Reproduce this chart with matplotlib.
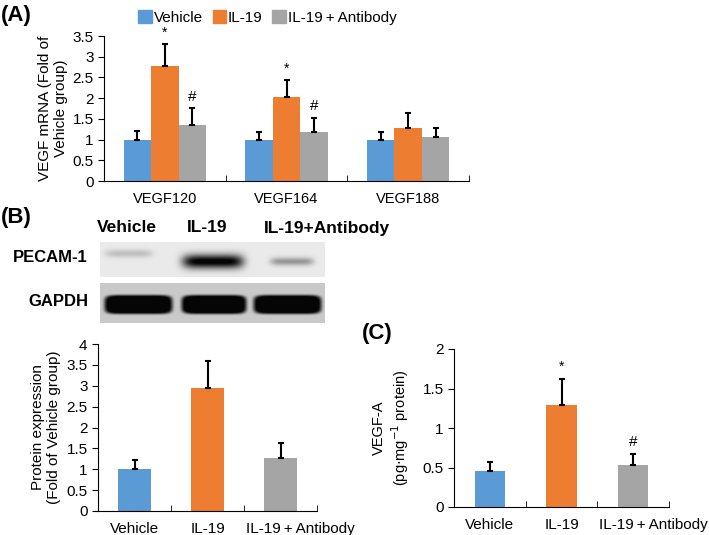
import numpy as np
import matplotlib
matplotlib.use('Agg')
from matplotlib import pyplot as plt
from matplotlib.patches import Patch
from matplotlib.transforms import ScaledTranslation

plt.rcParams['font.family'] = ['Liberation Sans', 'DejaVu Sans']

# data
genes = ['VEGF120', 'VEGF164', 'VEGF188']
groups = ['Vehicle', 'IL-19', 'IL-19\u2009+\u2009Antibody']
colors = ['#5B9BD5', '#ED7D31', '#A5A5A5']

mrna_mean = [[1.00, 1.00, 1.00],   # Vehicle
             [2.78, 2.03, 1.29],   # IL-19
             [1.35, 1.19, 1.06]]   # IL-19 + Antibody
mrna_err = [[0.21, 0.18, 0.19],
            [0.53, 0.40, 0.34],
            [0.41, 0.34, 0.21]]
mrna_marks = [['', '', ''], ['*', '*', ''], ['#', '#', '']]

bar_labels = ['Vehicle', 'IL-19', 'IL-19\u2009+\u2009Antibody']
prot_mean = [1.00, 2.95, 1.27]
prot_err = [0.22, 0.64, 0.35]

vegfa_mean = [0.46, 1.29, 0.53]
vegfa_err = [0.11, 0.33, 0.14]
vegfa_marks = ['', '*', '#']

blot_lanes = ['Vehicle', 'IL-19', 'IL-19+Antibody']
pecam_band = [0.18, 1.0, 0.35]
gapdh_band = [1.0, 1.0, 1.0]

W, H = 709, 535
fig = plt.figure(figsize=(W / 100, H / 100), dpi=100)


def box(x0, y0, x1, y1):
    return [x0 / W, 1 - y1 / H, (x1 - x0) / W, (y1 - y0) / H]


def style(ax, nslots, ymax, step):
    ax.spines['top'].set_visible(False)
    ax.spines['right'].set_visible(False)
    ax.set_xlim(-0.5, nslots - 0.5)
    ax.set_ylim(0, ymax)
    ax.set_yticks(np.arange(0, ymax + 0.01, step))
    ax.set_yticklabels(['%g' % v for v in np.arange(0, ymax + 0.01, step)])
    ax.set_xticks(np.arange(-0.5, nslots, 1.0), minor=True)
    ax.tick_params(axis='x', which='major', length=0, labelsize=10.5, pad=8)
    ax.tick_params(axis='x', which='minor', direction='in', length=4)
    ax.tick_params(axis='y', direction='out', length=4, labelsize=11)


def shift_last(ax):
    # the last category label sits a bit right of its bar in the original
    lab = ax.get_xticklabels()[-1]
    lab.set_transform(lab.get_transform() + ScaledTranslation(0.2, 0, fig.dpi_scale_trans))


# (A)
axA = fig.add_axes(box(104, 36, 469, 181))
x = np.arange(len(genes))
bw = 0.225
for i in range(3):
    xs = x + (i - 1) * bw
    axA.bar(xs, mrna_mean[i], bw, color=colors[i], label=groups[i])
    axA.errorbar(xs, mrna_mean[i], yerr=[np.zeros(3), mrna_err[i]], fmt='none',
                 ecolor='black', elinewidth=1.5, capsize=2.5, capthick=1.5)
    for j in range(3):
        if mrna_marks[i][j]:
            axA.text(xs[j], mrna_mean[i][j] + mrna_err[i][j] + 0.1, mrna_marks[i][j],
                     ha='center', va='bottom', fontsize=11 if mrna_marks[i][j] == '#' else 10)
style(axA, 3, 3.5, 0.5)
axA.set_xticks(x)
axA.set_xticklabels(genes)
axA.set_ylabel('VEGF mRNA (Fold of\nVehicle group)', fontsize=11, labelpad=3)

handles = [Patch(color=c) for c in colors]
fig.legend(handles, groups, loc='upper left', bbox_to_anchor=(129 / W, 1 - 1 / H), ncol=3,
           frameon=False, fontsize=11, handlelength=0.9, handleheight=0.9,
           handletextpad=0.1, columnspacing=0.65, borderaxespad=0.2)

# (B) blot
axBlot = fig.add_axes(box(100, 242, 325, 323))
bw_px, bh_px = 225, 81
img = np.ones((bh_px, bw_px))
img[0:35, :] = 0.92
img[41:, :] = 0.79
yy, xx = np.mgrid[0:bh_px, 0:bw_px]
pecam_x = [(5, 52), (82, 143), (170, 213)]
pecam_y = [(11, 4), (19, 7), (19, 4)]
for (a, b), (cy, hh), k in zip(pecam_x, pecam_y, pecam_band):
    cx, hw = (a + b) / 2, (b - a) / 2
    blob = np.exp(-((xx - cx) / hw) ** 6 - ((yy - cy) / hh) ** 2)
    img = img - k * 0.95 * blob
gapdh_x = [(4, 72), (81, 146), (153, 221)]
for (a, b), k in zip(gapdh_x, gapdh_band):
    cx, hw = (a + b) / 2, (b - a) / 2
    r = np.sqrt(((xx - cx) / hw) ** 8 + ((yy - 62) / 9.5) ** 4)
    blob = np.exp(-r ** 4)
    img = img - k * 0.97 * blob
img = np.clip(img, 0.02, 1)
img[35:41, :] = 1.0
rgb = np.dstack([img] * 3)
axBlot.imshow(rgb, aspect='auto', interpolation='bilinear')
axBlot.axis('off')

for lx, name in zip([127, 207, 327], blot_lanes):
    fig.text(lx / W, 1 - 228 / H, name, ha='center', va='center', fontsize=12.5, fontweight='bold')
fig.text(88 / W, 1 - 258 / H, 'PECAM-1', ha='right', va='center', fontsize=12, fontweight='bold')
fig.text(88 / W, 1 - 302 / H, 'GAPDH', ha='right', va='center', fontsize=12, fontweight='bold')

# (B) bars
axB = fig.add_axes(box(98, 344, 317, 511))
xb = np.arange(3)
axB.bar(xb, prot_mean, 0.44, color=colors)
axB.errorbar(xb, prot_mean, yerr=[np.zeros(3), prot_err], fmt='none',
             ecolor='black', elinewidth=1.5, capsize=2.5, capthick=1.5)
style(axB, 3, 4, 0.5)
axB.set_xticks(xb)
axB.set_xticklabels(bar_labels)
axB.tick_params(axis='x', which='major', labelsize=11)
shift_last(axB)
axB.set_ylabel('Protein expression\n(Fold of Vehicle group)', fontsize=11, labelpad=4)

# (C)
axC = fig.add_axes(box(454, 349, 669, 507))
axC.bar(xb, vegfa_mean, 0.42, color=colors)
axC.errorbar(xb, vegfa_mean, yerr=[np.zeros(3), vegfa_err], fmt='none',
             ecolor='black', elinewidth=1.5, capsize=2.5, capthick=1.5)
for j in range(3):
    if vegfa_marks[j]:
        axC.text(xb[j], vegfa_mean[j] + vegfa_err[j] + 0.06, vegfa_marks[j],
                 ha='center', va='bottom', fontsize=11 if vegfa_marks[j] == '#' else 10)
style(axC, 3, 2, 0.5)
axC.set_xticks(xb)
axC.set_xticklabels(bar_labels)
axC.tick_params(axis='x', which='major', labelsize=11)
shift_last(axC)
axC.set_ylabel('VEGF-A\n(pg$\\cdot$mg$^{-1}$ protein)', fontsize=10.5, labelpad=8)

fig.text(1 / W, 1 - 15 / H, '(A)', fontsize=16, fontweight='bold', va='center')
fig.text(1 / W, 1 - 217 / H, '(B)', fontsize=16, fontweight='bold', va='center')
fig.text(362 / W, 1 - 334 / H, '(C)', fontsize=16, fontweight='bold', va='center')

fig.savefig('out.png', dpi=100)
